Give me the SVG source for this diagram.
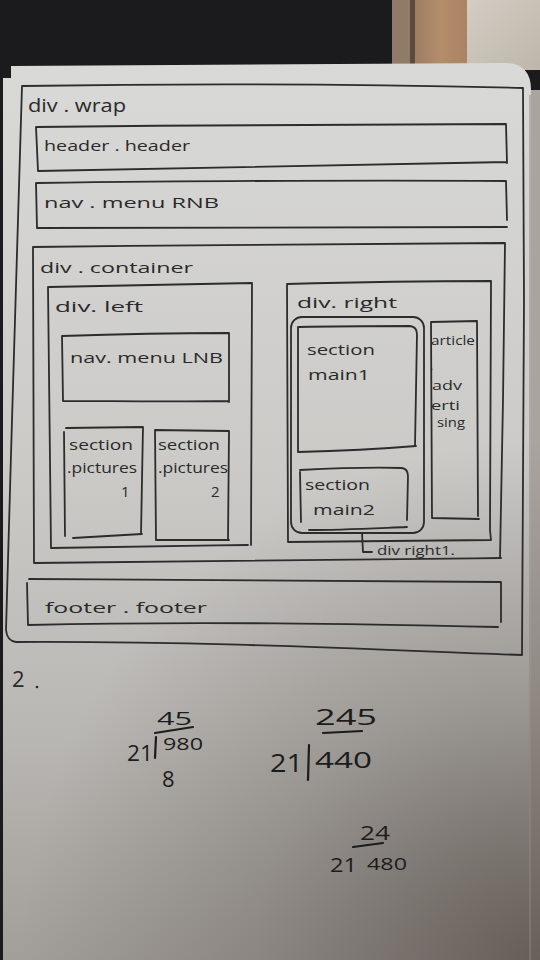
<svg xmlns="http://www.w3.org/2000/svg" width="540" height="960" viewBox="0 0 540 960">
  <defs>
    <linearGradient id="paperShade" x1="0" y1="0" x2="0" y2="1">
      <stop offset="0" stop-color="#d9d9d7"/>
      <stop offset="0.45" stop-color="#cbcac7"/>
      <stop offset="0.75" stop-color="#b9b7b3"/>
      <stop offset="1" stop-color="#a29e9a"/>
    </linearGradient>
    <radialGradient id="cornerShadow" cx="540" cy="960" r="520" gradientUnits="userSpaceOnUse">
      <stop offset="0" stop-color="#3c322d" stop-opacity="0.6"/>
      <stop offset="0.55" stop-color="#3c322d" stop-opacity="0.22"/>
      <stop offset="1" stop-color="#3c322d" stop-opacity="0"/>
    </radialGradient>
    <linearGradient id="woodTan" x1="0" y1="0" x2="1" y2="0">
      <stop offset="0" stop-color="#9c7e64"/>
      <stop offset="0.5" stop-color="#b48d6a"/>
      <stop offset="1" stop-color="#a98463"/>
    </linearGradient>
    <linearGradient id="woodPale" x1="0" y1="0" x2="1" y2="1">
      <stop offset="0" stop-color="#d3cdc3"/>
      <stop offset="1" stop-color="#bdb6ab"/>
    </linearGradient>
  </defs>
  <style>
    .ink { fill: none; stroke: #2c2c2c; stroke-width: 1.8; stroke-linecap: round; stroke-linejoin: round; }
    .inkDark { fill: none; stroke: #1c1c1c; stroke-width: 2.2; stroke-linecap: round; stroke-linejoin: round; }
    .lbl { font-family: "Open Sans", "DejaVu Sans", sans-serif; fill: #2a2a2a; }
    .big { font-size: 18px; }
    .mid { font-size: 15px; }
    .small { font-size: 12px; }
    .num { font-family: "Open Sans", "DejaVu Sans", sans-serif; fill: #1c1c1c; }
  </style>

  <!-- desk and background above the sheet -->
  <rect x="0" y="0" width="540" height="960" fill="#1b1b1d"/>
  <rect x="392" y="0" width="20" height="70" fill="#8f7b68"/>
  <rect x="410" y="0" width="5" height="70" fill="#5c4a3c"/>
  <rect x="415" y="0" width="52" height="70" fill="url(#woodTan)"/>
  <rect x="467" y="0" width="73" height="70" fill="url(#woodPale)"/>

  <!-- notebook sheets -->
  <path d="M3,78 L10,78 L10,960 L3,960 Z" fill="#c9c8c5"/>
  <path d="M530,90 L540,90 L540,960 L530,960 Z" fill="#aaa49f"/>
  <path d="M11,66 L505,63 Q531,63 531,90 L531,960 L3,960 L3,78 L11,78 Z" fill="url(#paperShade)"/>
  <path d="M3,66 L540,60 L540,960 L3,960 Z" fill="url(#cornerShadow)"/>
  <path d="M530,95 L530,960" stroke="#8d8682" stroke-width="1" fill="none"/>

  <!-- page layout wireframe -->
  <g id="div-wrap">
    <path class="ink" d="M22,86 C150,84 320,83 523,88 L524,300 L522,655 C400,651 220,641 16,642 Q7,641 6,630 L12,420 L22,86"/>
    <text class="lbl big" x="28" y="112" textLength="98" lengthAdjust="spacingAndGlyphs">div . wrap</text>
  </g>

  <g id="header">
    <path class="ink" d="M37,127 C200,125 380,124 506,124 L507,163 M507,162 C360,164 200,168 38,171 L36,127"/>
    <text class="lbl mid" x="44" y="151" textLength="146" lengthAdjust="spacingAndGlyphs">header . header</text>
  </g>

  <g id="nav-rnb">
    <path class="ink" d="M37,183 C200,181 380,180 506,181 L507,220 M507,227 C360,227 200,228 37,228 L36,183"/>
    <text class="lbl mid" x="44" y="208" textLength="175" lengthAdjust="spacingAndGlyphs">nav . menu RNB</text>
  </g>

  <g id="div-container">
    <path class="ink" d="M33,247 C200,245 380,243 505,243 L503,400 L500,558 M501,558 C350,560 200,562 34,563 L33,247"/>
    <text class="lbl mid" x="40" y="273" textLength="153" lengthAdjust="spacingAndGlyphs">div . container</text>
  </g>

  <g id="div-left">
    <path class="ink" d="M49,287 C120,285 190,284 252,283 L251,545 M248,545 C180,546 110,547 51,548 L48,287"/>
    <text class="lbl mid" x="55" y="312" textLength="88" lengthAdjust="spacingAndGlyphs">div. left</text>
  </g>

  <g id="nav-lnb">
    <path class="ink" d="M62,336 C120,334 180,333 229,333 L229,402 M229,401 C170,402 110,401 63,401 L62,336"/>
    <text class="lbl mid" x="70" y="363" textLength="153" lengthAdjust="spacingAndGlyphs">nav. menu LNB</text>
  </g>

  <g id="section-pictures1">
    <path class="ink" d="M66,428 L143,427 L141,534 M142,534 L73,538 M64,432 L65,536"/>
    <text class="lbl mid" x="69" y="450" textLength="64" lengthAdjust="spacingAndGlyphs">section</text>
    <text class="lbl mid" x="67" y="473" textLength="70" lengthAdjust="spacingAndGlyphs">.pictures</text>
    <text class="lbl mid" x="121" y="497">1</text>
  </g>

  <g id="section-pictures2">
    <path class="ink" d="M155,430 L229,431 L228,540 M229,540 L156,540 L155,430"/>
    <text class="lbl mid" x="158" y="450" textLength="62" lengthAdjust="spacingAndGlyphs">section</text>
    <text class="lbl mid" x="158" y="473" textLength="70" lengthAdjust="spacingAndGlyphs">.pictures</text>
    <text class="lbl mid" x="211" y="497">2</text>
  </g>

  <g id="div-right">
    <path class="ink" d="M287,284 C360,282 430,281 491,281 L490,530 L491,540 M491,540 C420,541 350,541 288,542 L287,284"/>
    <text class="lbl mid" x="297" y="308" textLength="100" lengthAdjust="spacingAndGlyphs">div. right</text>
  </g>

  <g id="div-right1">
    <rect class="ink" x="291" y="317" width="133" height="216" rx="11" ry="11"/>
  </g>

  <g id="section-main1">
    <path class="ink" d="M299,327 C340,326 380,326 410,326 Q417,327 417,334 L415,446 M416,446 C380,449 340,451 298,452 L298,327"/>
    <text class="lbl mid" x="307" y="355" textLength="68" lengthAdjust="spacingAndGlyphs">section</text>
    <text class="lbl mid" x="308" y="380" textLength="62" lengthAdjust="spacingAndGlyphs">main1</text>
  </g>

  <g id="section-main2">
    <path class="ink" d="M300,470 C340,468 370,467 402,468 Q408,469 408,476 L407,520 M407,527 C380,528 340,530 309,530 M300,472 L301,522"/>
    <text class="lbl mid" x="305" y="490" textLength="65" lengthAdjust="spacingAndGlyphs">section</text>
    <text class="lbl mid" x="313" y="515" textLength="62" lengthAdjust="spacingAndGlyphs">main2</text>
  </g>

  <g id="article">
    <path class="ink" d="M431,322 L477,321 L478,516 M479,519 L432,518 L431,322"/>
    <text class="lbl small" x="431" y="345" textLength="44" lengthAdjust="spacingAndGlyphs">article</text>
    <text class="lbl small" x="430" y="370">.</text>
    <text class="lbl small" x="432" y="390" textLength="30" lengthAdjust="spacingAndGlyphs">adv</text>
    <text class="lbl small" x="431" y="410" textLength="29" lengthAdjust="spacingAndGlyphs">erti</text>
    <text class="lbl small" x="437" y="427" textLength="28" lengthAdjust="spacingAndGlyphs">sing</text>
  </g>

  <g id="footer">
    <path class="ink" d="M29,579 C200,580 380,581 501,582 L501,622 M498,627 C360,624 200,621 28,625 L27,583"/>
    <text class="lbl mid" x="45" y="613" textLength="162" lengthAdjust="spacingAndGlyphs">footer . footer</text>
  </g>

  <!-- callout naming the rounded box inside div.right -->
  <g id="connectors">
    <path class="ink" d="M362,533 L363,552 L372,552"/>
    <text class="lbl small" x="377" y="555" textLength="78" lengthAdjust="spacingAndGlyphs">div right1.</text>
  </g>

  <!-- notes below the sheet layout -->
  <g id="note-2">
    <text class="lbl" x="12" y="687" font-size="22">2</text>
    <circle cx="37" cy="687" r="1.3" fill="#2a2a2a"/>
  </g>

  <g id="calc-1">
    <text class="num" x="157" y="725" font-size="18" textLength="35" lengthAdjust="spacingAndGlyphs">45</text>
    <path class="inkDark" d="M155,733 L193,727"/>
    <text class="num" x="127" y="761" font-size="22" textLength="26" lengthAdjust="spacingAndGlyphs">21</text>
    <path class="inkDark" d="M156,737 L155,758"/>
    <text class="num" x="163" y="750" font-size="16" textLength="40" lengthAdjust="spacingAndGlyphs">980</text>
    <text class="num" x="162" y="787" font-size="22">8</text>
  </g>

  <g id="calc-2">
    <text class="num" x="315" y="725" font-size="22" textLength="62" lengthAdjust="spacingAndGlyphs">245</text>
    <path class="inkDark" d="M323,733 L362,731"/>
    <text class="num" x="270" y="772" font-size="26" textLength="33" lengthAdjust="spacingAndGlyphs">21</text>
    <path class="inkDark" d="M309,745 L308,780"/>
    <text class="num" x="315" y="768" font-size="22" textLength="57" lengthAdjust="spacingAndGlyphs">440</text>
  </g>

  <g id="calc-3">
    <text class="num" x="360" y="840" font-size="20" textLength="30" lengthAdjust="spacingAndGlyphs">24</text>
    <path class="inkDark" d="M353,847 L383,843"/>
    <text class="num" x="330" y="872" font-size="20" textLength="27" lengthAdjust="spacingAndGlyphs">21</text>
    <text class="num" x="367" y="870" font-size="17" textLength="40" lengthAdjust="spacingAndGlyphs">480</text>
  </g>
</svg>
